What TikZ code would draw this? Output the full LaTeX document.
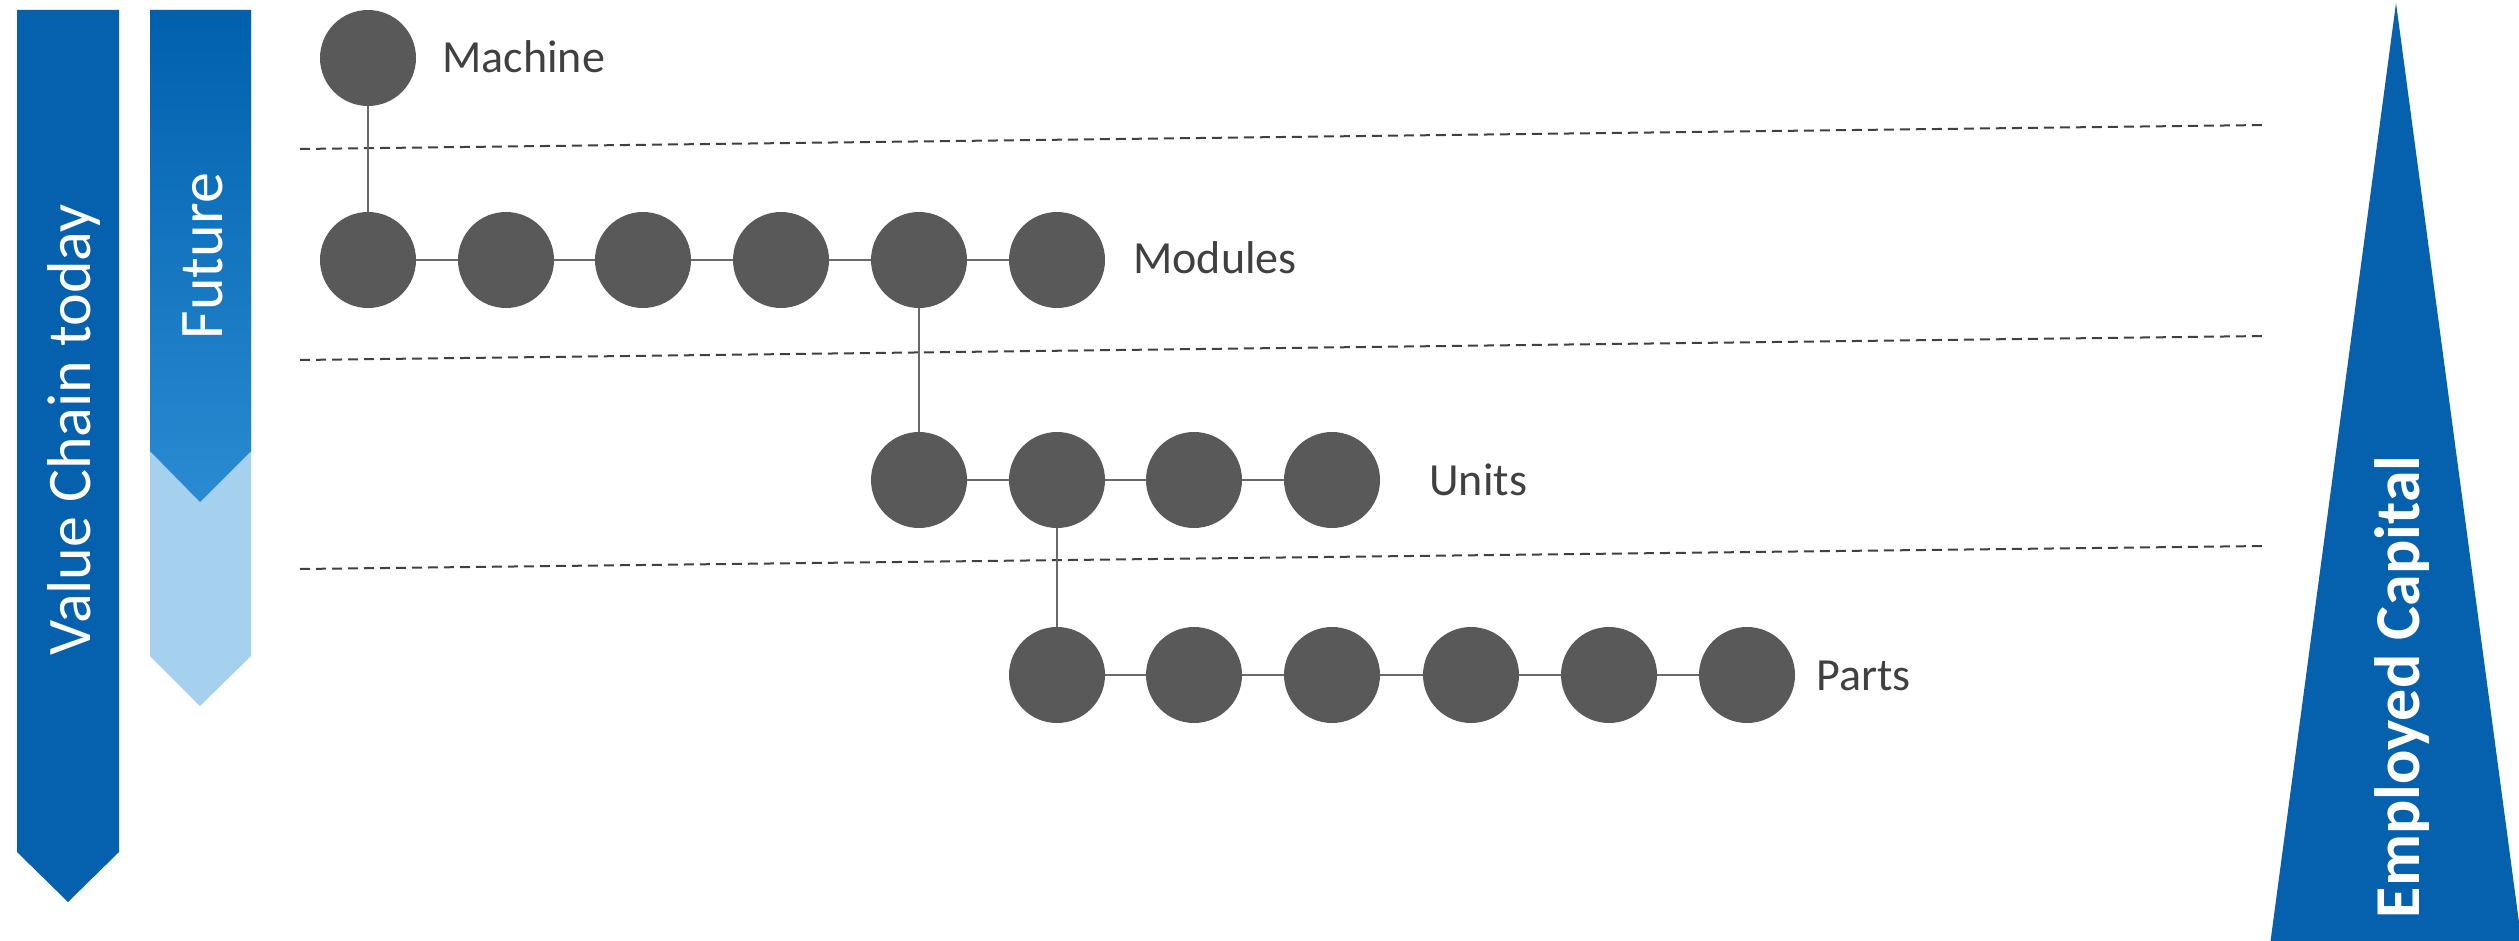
\documentclass[tikz,border=0pt]{standalone}
\usepackage{fontspec}
\setmainfont{Carlito}
\definecolor{chainblue}{RGB}{5,96,174}
\definecolor{futtop}{RGB}{0,96,174}
\definecolor{futbot}{RGB}{42,139,210}
\definecolor{futlight}{RGB}{165,208,238}
\definecolor{dotgray}{RGB}{89,89,89}
\definecolor{linkgray}{RGB}{105,105,105}
\definecolor{labelgray}{RGB}{64,64,64}
\definecolor{sepgray}{RGB}{64,64,64}
\begin{document}
\begin{tikzpicture}[x=0.5pt,y=-0.5pt,
  dot/.style={circle, fill=dotgray, minimum size=48pt, inner sep=0pt},
  link/.style={draw=linkgray, line width=1.2pt},
  level/.style={anchor=base west, text=labelgray, inner sep=0pt,
                font=\fontsize{23}{27}\selectfont},
  sep/.style={draw=sepgray, line width=1pt, dash pattern=on 5pt off 3pt},
  bandtext/.style={text=white, rotate=90, anchor=base, inner sep=0pt,
                   font=\fontsize{31}{36}\selectfont}]
\useasboundingbox (0,0) rectangle (2519,941);

% left bands
\fill[chainblue] (17,10) -- (119,10) -- (119,852) -- (68,902) -- (17,852) -- cycle;
\fill[futlight] (150,10) -- (251,10) -- (251,656) -- (200,706) -- (150,656) -- cycle;
\shade[top color=futtop, bottom color=futbot]
  (150,10) -- (251,10) -- (251,451) -- (200,502) -- (150,451) -- cycle;
\node[bandtext] (vct) at (90,430) {Value Chain today};
\node[bandtext] (fut) at (222,256) {Future};

% capital wedge
\fill[chainblue] (2270,945) -- (2396,3) -- (2522,945) -- cycle;
\node[bandtext, font=\fontsize{32}{38}\selectfont\bfseries] (cap) at (2419,687) {Employed Capital};

% level separators
\draw[sep] (300,149) -- (2265,125);
\draw[sep] (300,360) -- (2265,336);
\draw[sep] (300,569) -- (2265,546);

% machine
\node[dot] (m) at (368,58) {};
% modules
\node[dot] (mo1) at (368,260) {};
\node[dot] (mo2) at (506,260) {};
\node[dot] (mo3) at (643,260) {};
\node[dot] (mo4) at (781,260) {};
\node[dot] (mo5) at (919,260) {};
\node[dot] (mo6) at (1057,260) {};
% units
\node[dot] (u1) at (919,480) {};
\node[dot] (u2) at (1057,480) {};
\node[dot] (u3) at (1194,480) {};
\node[dot] (u4) at (1332,480) {};
% parts
\node[dot] (p1) at (1057,675) {};
\node[dot] (p2) at (1194,675) {};
\node[dot] (p3) at (1332,675) {};
\node[dot] (p4) at (1471,675) {};
\node[dot] (p5) at (1609,675) {};
\node[dot] (p6) at (1747,675) {};

% links
\draw[link] (m) -- (mo1);
\draw[link] (mo1) -- (mo2);
\draw[link] (mo2) -- (mo3);
\draw[link] (mo3) -- (mo4);
\draw[link] (mo4) -- (mo5);
\draw[link] (mo5) -- (mo6);
\draw[link] (mo5) -- (u1);
\draw[link] (u1) -- (u2);
\draw[link] (u2) -- (u3);
\draw[link] (u3) -- (u4);
\draw[link] (u2) -- (p1);
\draw[link] (p1) -- (p2);
\draw[link] (p2) -- (p3);
\draw[link] (p3) -- (p4);
\draw[link] (p4) -- (p5);
\draw[link] (p5) -- (p6);

% level labels
\node[level] (lm) at (442,73) {Machine};
\node[level] (lmo) at (1133,273) {Modules};
\node[level] (lu) at (1429,495) {Units};
\node[level] (lp) at (1816,690) {Parts};
\end{tikzpicture}
\end{document}
